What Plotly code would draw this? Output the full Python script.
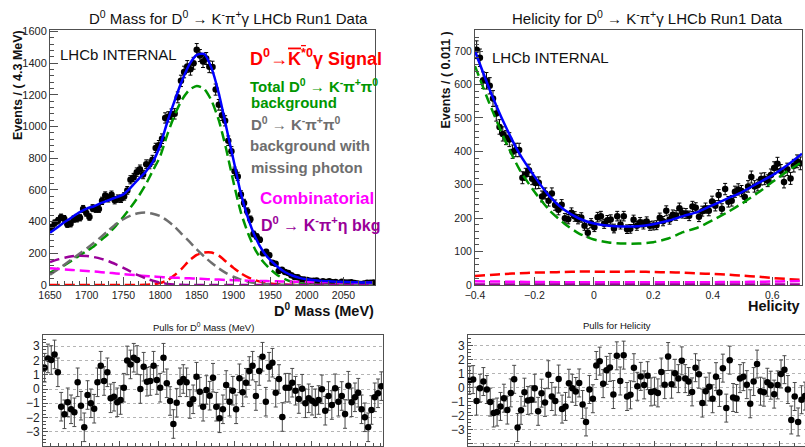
import plotly.graph_objects as go

# ---------------- D0 mass fit ----------------
mass_lo = 1650.0
mass_bin = 4.3
mass_counts = [364, 391, 405, 427, 418, 383, 386, 416, 418, 425,
               480, 455, 429, 485, 480, 480, 531, 564, 547, 569,
               535, 545, 544, 559, 597, 664, 678, 712, 730, 697,
               762, 761, 790, 865, 882, 923, 1054, 1061, 1078, 1080,
               1184, 1288, 1344, 1379, 1361, 1399, 1485, 1448, 1410, 1429,
               1377, 1375, 1233, 1137, 1071, 1036, 910, 844, 717, 685,
               571, 518, 465, 415, 322, 306, 285, 200, 210, 188,
               141, 134, 89, 96, 82, 76, 61, 50, 49, 36,
               35, 31, 27, 27, 29, 19, 23, 19, 23, 18,
               19, 12, 20, 15, 16, 17, 12, 9, 6, 10,
               14, 14, 16]
mass_pulls = [1.49, 2.14, 2.03, 2.42, 1.17, -1.24, -1.77, -0.93, -1.42, -1.63,
              0.47, -1.17, -2.68, -0.42, -1.0, -1.38, 0.47, 1.63, 0.56, 1.17,
              -0.65, -0.54, -0.93, -0.77, 0.09, 2.0, 1.72, 2.19, 2.03, 0.0,
              1.56, 0.51, 0.56, 1.63, 0.63, 0.09, 2.19, 0.4, -0.84, -2.45,
              -0.96, 0.47, 0.7, 0.47, -1.05, -0.72, 0.86, -0.19, -1.24, -0.07,
              -0.47, 0.79, -1.24, -2.05, -1.42, 0.28, -0.89, -0.12, -1.42, 0.75,
              -0.23, 0.44, 1.26, 1.63, -0.49, 1.26, 2.26, -0.89, 1.56, 1.84,
              -0.26, 0.7, -1.96, 0.09, 0.09, 0.44, -0.12, -0.7, 0.02, -1.0,
              -0.65, -0.82, -1.0, -0.77, -0.02, -1.52, -0.49, -1.12, 0.05, -0.89,
              -0.49, -1.75, 0.23, -0.93, -0.58, -0.26, -1.42, -1.98, -2.68, -1.47,
              -0.58, -0.3, 0.2]
mass_grid = list(range(1650, 2100, 10))
mass_total = [330, 363, 397, 428, 458, 482, 497, 518, 535, 553,
              572, 615, 665, 712, 775, 880, 1030, 1165, 1290, 1392,
              1452, 1458, 1370, 1210, 1000, 790, 580, 420, 300, 215,
              158, 115, 82, 60, 45, 36, 30, 26, 23, 21,
              19, 18, 17, 16, 15]
mass_signal = [0, 0, 0, 0, 0, 0, 0, 0, 0, 0,
               0, 0, 0, 1, 4, 12, 30, 63, 105, 155,
               190, 205, 205, 185, 147, 108, 74, 48, 30, 18,
               10, 5, 3, 1, 0, 0, 0, 0, 0, 0,
               0, 0, 0, 0, 0]
mass_kpipi0 = [78, 100, 125, 155, 185, 215, 245, 285, 325, 375,
               430, 490, 555, 630, 720, 810, 950, 1075, 1170, 1232,
               1256, 1238, 1165, 1040, 860, 650, 460, 325, 220, 150,
               100, 62, 37, 20, 10, 5, 2, 1, 0, 0,
               0, 0, 0, 0, 0]
mass_missing = [65, 97, 130, 163, 197, 230, 266, 305, 345, 385,
                415, 438, 453, 457, 450, 435, 405, 368, 320, 273,
                225, 180, 140, 105, 75, 52, 34, 21, 12, 7,
                4, 2, 1, 0, 0, 0, 0, 0, 0, 0,
                0, 0, 0, 0, 0]
mass_comb = [105, 102, 98, 95, 92, 89, 85, 81, 77, 73,
             69, 65, 61, 57, 54, 51, 48, 46, 44, 42,
             40, 38, 36, 34, 32, 30, 29, 27, 26, 25,
             24, 23, 22, 21, 20, 19, 18, 17.5, 17, 16,
             15.5, 15, 14.5, 14, 13.5]
mass_eta = [145, 160, 172, 181, 185, 183, 176, 165, 150, 130,
            108, 85, 62, 42, 27, 15, 7, 3, 1, 0,
            0, 0, 0, 0, 0, 0, 0, 0, 0, 0,
            0, 0, 0, 0, 0, 0, 0, 0, 0, 0,
            0, 0, 0, 0, 0]

# ---------------- Helicity fit ----------------
hel_lo = -0.4
hel_bin = 0.011
hel_counts = [704, 680, 613, 611, 596, 558, 513, 473, 452, 441,
              435, 399, 404, 404, 321, 331, 343, 318, 305, 306,
              265, 274, 252, 274, 239, 225, 240, 200, 197, 216,
              205, 197, 202, 177, 156, 185, 173, 203, 206, 183,
              194, 196, 169, 206, 181, 206, 167, 168, 195, 177,
              188, 181, 190, 177, 178, 179, 201, 191, 222, 196,
              210, 208, 230, 215, 214, 207, 235, 231, 204, 221,
              230, 222, 250, 237, 269, 228, 287, 249, 252, 279,
              286, 281, 263, 295, 323, 295, 299, 317, 318, 312,
              329, 350, 363, 342, 308, 346, 319, 357, 370, 364]
hel_pulls = [0.54, 0.57, -0.97, -0.05, 0.43, -0.14, -1.04, -1.82, -1.75, -1.35,
             -0.76, -1.61, -0.38, 0.59, -2.86, -1.63, -0.33, -0.92, -0.87, -0.05,
             -1.70, -0.40, -1.06, 0.92, -0.64, -0.97, 0.61, -1.54, -1.35, 0.31,
             -0.05, -0.28, 0.33, -1.21, -2.46, -0.14, -0.80, 1.58, 1.89, 0.28,
             1.23, 1.44, -0.50, 2.27, 0.47, 2.32, -0.64, -0.52, 1.42, 0.09,
             0.80, 0.19, 0.85, -0.31, -0.26, -0.38, 1.11, 0.21, 2.22, 0.24,
             1.02, 0.64, 1.91, 0.64, 0.43, -0.31, 1.42, 0.95, -1.11, -0.26,
             0.05, -0.80, 0.78, -0.35, 1.39, -1.47, 1.96, -0.71, -0.78, 0.64,
             0.78, 0.21, -1.16, 0.43, 1.68, -0.26, -0.33, 0.38, 0.17, -0.47,
             0.19, 0.97, 1.28, -0.14, -2.32, -0.64, -2.46, -0.87, -0.61, -1.28]
hel_grid = [-0.4, -0.35, -0.3, -0.25, -0.2, -0.15, -0.1, -0.05, 0.0, 0.05, 0.1, 0.15,
            0.2, 0.25, 0.3, 0.35, 0.4, 0.45, 0.5, 0.55, 0.6, 0.65, 0.7]
hel_total = [700, 583, 480, 392, 325, 266, 225, 199, 184, 177, 175, 176,
             182, 192, 206, 219, 239, 259, 279, 304, 328, 358, 393]
hel_kpipi0 = [655, 540, 435, 345, 279, 224, 184, 154, 136, 127, 124, 124,
              128, 139, 158, 172, 194, 218, 245, 275, 308, 340, 368]
hel_signal = [27, 30, 33, 35, 37, 38, 39, 40, 40, 40, 40, 40,
              39, 38, 37, 35, 33, 31, 28, 25, 21, 18, 15]
hel_comb = [11, 10.5, 10, 9.5, 9, 8.7, 8.4, 8.2, 8, 8, 8, 8,
            8, 8, 8, 8.2, 8.5, 8.8, 9.2, 9.7, 10.3, 11, 12]
hel_eta = [1.5] * 23

# ---------------- style ----------------
W, H = 805, 447
FONT = "Liberation Sans, Arial, Helvetica, sans-serif"
RED, GREEN, GRAY, MAG, PURP, BLUE = "#ff0000", "#009600", "#6e6e6e", "#ff00ff", "#990099", "#0000ff"
AX = "#505050"
DASH = "10px,5px"


def px(x):
    return x / W


def py(y):
    return 1 - y / H


def centers(lo, width, n):
    return [lo + width * (i + 0.5) for i in range(n)]


mass_x = centers(mass_lo, mass_bin, len(mass_counts))
hel_x = centers(hel_lo, hel_bin, len(hel_counts))

fig = go.Figure()


def data_trace(x, y, xa, ya):
    return go.Scatter(x=x, y=y, mode="markers", xaxis=xa, yaxis=ya,
                      marker=dict(color="black", size=6.5),
                      error_y=dict(type="sqrt", color="black", thickness=1, width=2),
                      showlegend=False, hoverinfo="skip")


def pull_trace(x, y, xa, ya):
    return go.Scatter(x=x, y=y, mode="markers", xaxis=xa, yaxis=ya,
                      marker=dict(color="black", size=6.5),
                      error_y=dict(type="constant", value=1, color="#4a4a4a", thickness=1, width=2),
                      showlegend=False, hoverinfo="skip")


def curve(x, y, color, xa, ya, dash=None):
    return go.Scatter(x=x, y=y, mode="lines", xaxis=xa, yaxis=ya,
                      line=dict(color=color, width=2.5, dash=dash, shape="spline", smoothing=0.6),
                      showlegend=False, hoverinfo="skip")


# mass panel
fig.add_trace(data_trace(mass_x, mass_counts, "x", "y"))
for ys, c in [(mass_signal, RED), (mass_kpipi0, GREEN), (mass_missing, GRAY),
              (mass_comb, MAG), (mass_eta, PURP)]:
    fig.add_trace(curve(mass_grid, ys, c, "x", "y", DASH))
fig.add_trace(curve(mass_grid, mass_total, BLUE, "x", "y"))

# helicity panel
fig.add_trace(data_trace(hel_x, hel_counts, "x2", "y2"))
for ys, c in [(hel_signal, RED), (hel_kpipi0, GREEN), (hel_comb, MAG), (hel_eta, PURP)]:
    fig.add_trace(curve(hel_grid, ys, c, "x2", "y2", DASH))
fig.add_trace(curve(hel_grid, hel_total, BLUE, "x2", "y2"))

# pull panels
fig.add_trace(pull_trace(mass_x, mass_pulls, "x3", "y3"))
fig.add_trace(pull_trace(hel_x, hel_pulls, "x4", "y4"))


def axis(domain, rng, dtick, minor, anchor, labels=True, size=10.5, tick0=None,
         ticklen=8, minorlen=4, grid=False):
    d = dict(domain=domain, range=rng, dtick=dtick, anchor=anchor, automargin=False,
             showline=True, mirror=True, linecolor=AX, linewidth=1,
             ticks="inside", ticklen=ticklen, tickcolor=AX, tickwidth=1,
             minor=dict(dtick=minor, ticks="inside", ticklen=minorlen, tickcolor=AX, showgrid=False),
             showticklabels=labels, tickfont=dict(family=FONT, size=size, color="#222"),
             zeroline=False, showgrid=grid, fixedrange=True)
    if tick0 is not None:
        d["tick0"] = tick0
    if grid:
        d.update(gridcolor="#b4b4b4", griddash="dot", gridwidth=1)
    return d


top = [py(285), py(30)]
bot = [py(446), py(335)]
mass_hi = mass_lo + mass_bin * len(mass_counts)

fig.update_layout(
    width=W, height=H, margin=dict(l=0, r=0, t=0, b=0, pad=0),
    paper_bgcolor="white", plot_bgcolor="white",
    xaxis=axis([px(50), px(375)], [mass_lo, mass_hi], 50, 10, "y", tick0=1650),
    yaxis=axis(top, [0, 1609], 200, 40, "x", size=11),
    xaxis2=axis([px(475), px(802)], [-0.4, 0.7], 0.2, 0.05, "y2", tick0=-0.4),
    yaxis2=axis(top, [0, 763], 100, 20, "x2", size=10.5),
    xaxis3=axis([px(43), px(383)], [mass_lo, mass_hi], 50, 10, "y3", labels=False,
                ticklen=5, minorlen=3),
    yaxis3=axis(bot, [-3.99, 3.78], 1, 0.25, "x3", size=12, ticklen=5, minorlen=3, grid=True),
    xaxis4=axis([px(468), 1.0], [-0.4, -0.4 + 337 / 311], 0.2, 0.05, "y4", labels=False,
                ticklen=5, minorlen=3, tick0=-0.4),
    yaxis4=axis(bot, [-4.18, 3.76], 1, 0.25, "x4", size=12, ticklen=5, minorlen=3, grid=True),
)

ann = []


def text(x, y, s, size, color="#111", bold=False, xanchor="left", angle=0, yanchor="middle"):
    if bold:
        s = "<b>" + s + "</b>"
    ann.append(dict(x=px(x), y=py(y), xref="paper", yref="paper", text=s, showarrow=False,
                    xanchor=xanchor, yanchor=yanchor, textangle=angle, borderpad=0,
                    font=dict(family=FONT, size=size, color=color)))


DK = "D<sup>0</sup> → K<sup>-</sup>π<sup>+</sup>"
text(228, 17, "D<sup>0</sup> Mass for " + DK + "γ LHCb Run1 Data", 15, xanchor="center")
text(647, 17, "Helicity for " + DK + "γ LHCb Run1 Data", 15, xanchor="center")
text(59, 54, "LHCb INTERNAL", 15)
text(491, 58, "LHCb INTERNAL", 15)

text(249, 57, "D<sup>0</sup>→<span style='text-decoration:overline'>K<sup>*</sup></span>"
              "<sup>0</sup>γ Signal", 18, RED, True)
text(249, 85, "Total " + DK + "π<sup>0</sup>", 15, GREEN, True)
text(250, 102, "background", 15, GREEN, True)
text(250, 124, DK + "π<sup>0</sup>", 15, GRAY, True)
text(249, 145, "background with", 15, GRAY, True)
text(250, 167, "missing photon", 15, GRAY, True)
text(259, 198, "Combinatorial", 17, MAG, True)
text(260, 224, DK + "η bkg", 16, PURP, True)

text(375, 310, "D<sup>0</sup> Mass (MeV)", 14.5, bold=True, xanchor="right")
text(801, 306, "Helicity", 14.5, bold=True, xanchor="right")
text(18, 29, "Events / ( 4.3 MeV)", 12.5, bold=True, xanchor="center", angle=-90, yanchor="top")
text(445, 31, "Events / ( 0.011 )", 12.5, bold=True, xanchor="center", angle=-90, yanchor="top")

text(203, 327, "Pulls for D<sup>0</sup> Mass (MeV)", 9.5, xanchor="center")
text(617, 325, "Pulls for Helicity", 9.5, xanchor="center")

fig.update_layout(annotations=ann)
fig.write_html("out.html")
